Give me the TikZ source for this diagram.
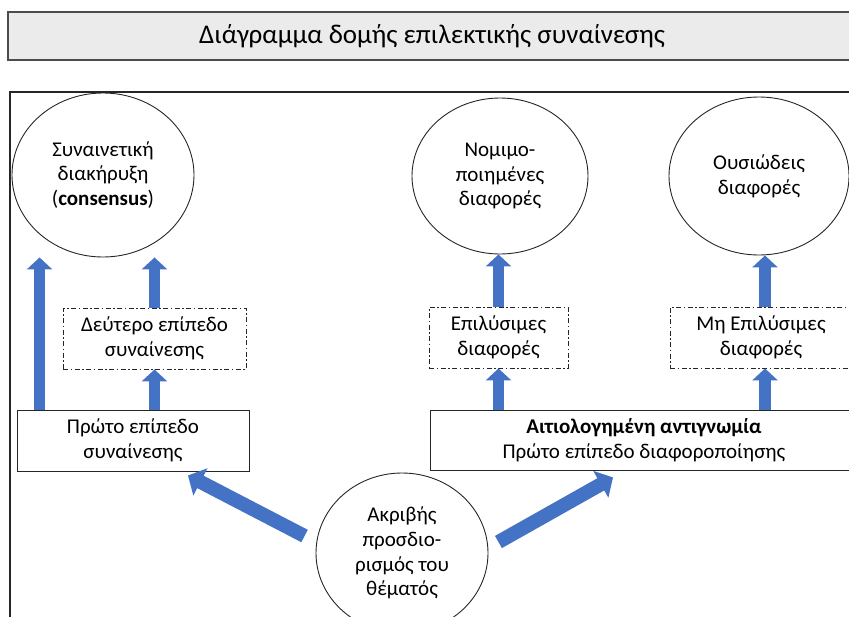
\documentclass[tikz,border=0pt]{standalone}
\usepackage{fontspec}
\setmainfont{Carlito}
\usetikzlibrary{arrows.meta,shapes.geometric}
\definecolor{arrowblue}{HTML}{4472C4}
\begin{document}
\begin{tikzpicture}[x=1pt,y=-1pt,
 txt/.style={font=\fontsize{21}{24.8}\selectfont, align=center, inner sep=0pt, text=black},
 oval/.style={ellipse, draw=black!85, line width=0.9pt, txt},
 solidbox/.style={rectangle, draw=black!85, line width=0.9pt, txt},
 dashbox/.style={rectangle, draw=black!85, line width=0.9pt, dash pattern=on 5pt off 2.5pt on 1.5pt off 2.5pt, txt},
 varrow/.style={draw=arrowblue, line width=11.5pt, -{Triangle[width=25pt,length=12pt]}},
 darrow/.style={draw=arrowblue, line width=14pt, -{Triangle[width=30pt,length=14pt]}}
]
\useasboundingbox (0,0) rectangle (849,616);
\clip (0,0) rectangle (849,616);

\node[draw=black!70, fill=black!8, line width=1.2pt, minimum width=848pt, minimum height=48pt, inner sep=0pt, font=\fontsize{27}{30}\selectfont] (title) at (432,36) {Διάγραμμα δομής επιλεκτικής συναίνεσης};

\node[draw=black!85, line width=2pt, minimum width=860pt, minimum height=548pt, inner sep=0pt] (frame) at (440,366) {};

\node[oval, minimum width=182pt, minimum height=164pt] (c1) at (103,175) {Συναινετική\\διακήρυξη\\(\textbf{consensus})};
\node[oval, minimum width=176pt, minimum height=156pt] (c2) at (500,176) {Νομιμο-\\ποιημένες\\διαφορές};
\node[oval, minimum width=180pt, minimum height=158pt] (c3) at (759,176) {Ουσιώδεις\\διαφορές};
\node[oval, minimum width=172pt, minimum height=160pt] (c4) at (402,553) {Ακριβής\\προσδιο-\\ρισμός του\\θέματός};

\node[dashbox, minimum width=183pt, minimum height=61pt] (d1) at (154.5,338.5) {Δεύτερο επίπεδο\\συναίνεσης};
\node[solidbox, minimum width=232pt, minimum height=61pt] (p1) at (133,440.5) {Πρώτο επίπεδο\\συναίνεσης};
\node[dashbox, minimum width=139pt, minimum height=61pt] (d2) at (498.5,337.5) {Επιλύσιμες\\διαφορές};
\node[solidbox, minimum width=428pt, minimum height=60pt] (p2) at (644,440) {\textbf{Αιτιολογημένη αντιγνωμία}\\Πρώτο επίπεδο διαφοροποίησης};
\node[dashbox, minimum width=182pt, minimum height=61pt] (d3) at (761,337.5) {Μη Επιλύσιμες\\διαφορές};

\draw[varrow] ([xshift=23pt]p1.north west) -- ([xshift=23pt]p1.north west |- c1.south);
\draw[varrow] (d1.north) -- (d1.north |- c1.south);
\draw[varrow] (d1.south |- p1.north) -- (d1.south);
\draw[varrow] (d2.north) -- (d2.north |- c2.south);
\draw[varrow] (d2.south |- p2.north) -- (d2.south);
\draw[varrow] ([xshift=4pt]d3.north) -- ([xshift=4pt]d3.north |- c3.south);
\draw[varrow] ([xshift=4pt]d3.south |- p2.north) -- ([xshift=4pt]d3.south);

\draw[darrow] ([shift={(-11,-17)}]c4.west) -- ([shift={(55,4)}]p1.south);
\draw[darrow] ([shift={(10,-11)}]c4.east) -- ([shift={(-31,7)}]p2.south);
\end{tikzpicture}
\end{document}
